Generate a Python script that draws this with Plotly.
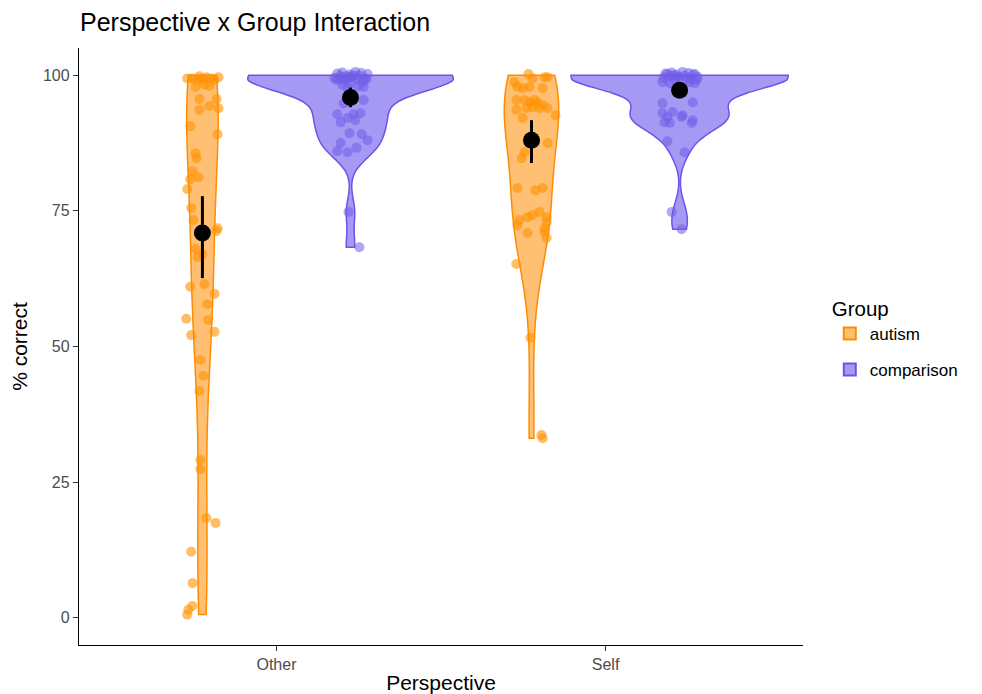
import numpy as np
import plotly.graph_objects as go

# ---------------- data ----------------
perspectives = ["Other", "Self"]
groups = ["autism", "comparison"]

other_autism = [100.0, 100.0, 100.0, 100.0, 100.0, 100.0, 100.0, 97.8, 98.3, 98.0, 100.0, 100.0,
                95.6, 93.6, 94.3, 95.6, 93.9, 90.6, 89.1, 85.6, 84.7, 82.3, 81.2, 80.8,
                79.0, 75.5, 73.3, 71.8, 71.3, 68.0, 66.5, 67.0, 61.0, 61.5, 59.7, 57.8,
                55.1, 54.9, 52.7, 52.1, 47.5, 44.6, 41.8, 29.1, 27.4, 18.4, 17.5, 12.2,
                6.4, 2.2, 1.5, 0.6]
other_autism_jit = [-0.046, -0.030, -0.015, 0.000, 0.012, 0.027, 0.049, -0.021, 0.006, 0.021, 0.037, -0.009,
                    -0.009, -0.009, 0.021, 0.043, 0.049, -0.037, 0.046, -0.021, -0.018, -0.030, -0.012, -0.037,
                    -0.046, -0.034, -0.027, 0.046, 0.043, -0.021, -0.015, 0.000, -0.037, 0.006, 0.037, 0.015,
                    -0.049, 0.018, 0.037, -0.034, -0.006, 0.003, -0.009, -0.006, -0.006, 0.012, 0.040, -0.034,
                    -0.030, -0.030, -0.043, -0.046]
other_autism_yjit = [-0.6, -0.6, -0.9, -0.7, -0.4, -0.6, -0.4, 0, 0, 0, -0.9, -0.2] + [0] * 40

other_comp = [100.0, 100.0, 100.0, 100.0, 100.0, 98.7, 98.2, 98.5, 98.0, 97.8, 97.6, 100.0, 100.0, 100.0,
              100.0, 100.0, 100.0, 100.0, 100.0, 100.0, 100.0, 100.0, 100.0, 100.0, 100.0, 100.0,
              95.4, 94.8, 92.8, 91.3, 92.1, 92.8, 91.7, 93.0, 89.3, 89.1, 88.0, 87.5, 86.0, 85.8,
              86.6, 74.8, 68.3]
other_comp_jit = [-0.037, -0.021, -0.006, 0.009, 0.021, 0.037, -0.024, 0.000, 0.024, 0.040, -0.009, -0.015, 0.049, -0.043,
                  -0.049, -0.040, -0.031, -0.025, -0.012, -0.003, 0.003, 0.015, 0.027, 0.033, 0.043, 0.052,
                  0.040, -0.021, -0.040, -0.030, -0.009, 0.009, 0.015, 0.030, -0.003, 0.034, 0.052, -0.030, -0.040, -0.009,
                  0.018, -0.006, 0.027]
other_comp_yjit = [-0.6, -0.9, -0.4, 0, -0.6, 0, 0, 0, 0, 0, 0, -0.2, -0.7, -0.9,
                   -0.5, 0.3, -0.2, 0.5, -0.7, 0.1, -0.4, 0.6, -0.1, 0.4, -0.6, 0.2] + [0] * 17

self_autism = [98.7, 97.8, 97.6, 100.0, 100.0, 100.0, 100.0, 97.8, 97.6, 95.4, 95.4, 95.0, 95.4, 95.0,
               94.5, 93.9, 93.6, 93.9, 94.1, 93.9, 92.6, 92.1, 87.5, 85.8, 84.7, 79.2, 78.8, 79.2,
               73.8, 74.2, 74.8, 73.8, 73.3, 72.4, 72.9, 70.9, 71.8, 70.0, 71.1, 65.2, 51.6, 33.7, 33.1]
self_autism_jit = [-0.052, -0.043, -0.027, -0.009, 0.003, 0.040, 0.049, -0.006, 0.034, -0.046, -0.021, -0.006, 0.009, 0.018,
                   0.034, 0.049, -0.046, -0.015, 0.003, 0.024, 0.073, -0.027, 0.049, -0.021, -0.030, -0.043, 0.012, 0.034,
                   -0.012, 0.003, 0.024, 0.046, -0.037, -0.043, 0.046, -0.012, 0.040, 0.046, 0.040, -0.046, -0.003, 0.030, 0.034]
self_autism_yjit = [0, 0, 0, 0.2, -0.6, -0.4, -0.4] + [0] * 36

self_comp = [100.0, 100.0, 100.0, 100.0, 100.0, 100.0, 100.0, 100.0, 100.0, 100.0, 100.0, 100.0,
             100.0, 100.0, 100.0, 100.0, 100.0, 100.0, 100.0,
             98.7, 98.5, 98.7, 98.5, 94.8, 95.0, 93.0, 93.2, 92.3,
             92.6, 92.3, 91.3, 91.2, 91.7, 91.2, 87.8, 85.8, 74.8, 71.6]
self_comp_jit = [-0.037, -0.006, 0.021, 0.040, 0.052, -0.049, -0.043, -0.031, -0.024, -0.015, -0.009, 0.000,
                 0.009, 0.015, 0.027, 0.033, 0.046, 0.055, -0.018,
                 -0.052, -0.030, 0.030, 0.046, -0.052, 0.040, -0.052, -0.021, -0.037,
                 0.009, 0.006, -0.046, -0.030, 0.040, 0.037, -0.037, 0.015, -0.024, 0.006]
self_comp_yjit = [0.2, -0.4, -0.6, 0.1, -0.9, -0.5, 0.3, -0.2, 0.5, -0.7, 0.1, -0.4, 0.6, -0.1,
                  0.4, -0.6, 0.2, -0.3, 0.0] + [0] * 19

# group means and error-bar limits
mean_vals = {"Other": [70.9, 95.9], "Self": [88.0, 97.2]}
err_lo = {"Other": [62.6, 94.1], "Self": [83.8, 95.9]}
err_hi = {"Other": [77.7, 97.7], "Self": [91.7, 98.5]}

values = {("Other", "autism"): (other_autism, other_autism_jit, other_autism_yjit),
          ("Other", "comparison"): (other_comp, other_comp_jit, other_comp_yjit),
          ("Self", "autism"): (self_autism, self_autism_jit, self_autism_yjit),
          ("Self", "comparison"): (self_comp, self_comp_jit, self_comp_yjit)}

# ---------------- styles ----------------
dodge = {"autism": -0.225, "comparison": 0.225}
cat_pos = {"Other": 1, "Self": 2}
line_col = {"autism": "#FF8C00", "comparison": "rgb(105,85,235)"}
fill_col = {"autism": "rgba(255,140,0,0.55)", "comparison": "rgba(123,104,238,0.68)"}
pt_col = {"autism": "rgba(255,145,0,0.6)", "comparison": "rgba(112,92,232,0.55)"}
FONT = "Liberation Sans, Arial, sans-serif"
MAX_WIDTH = 0.66   # full width of the widest violin (x units)
BW_ADJUST = {("Other", "autism"): 1.0, ("Other", "comparison"): 1.0,
             ("Self", "autism"): 1.35, ("Self", "comparison"): 1.0}
OFF = 8            # page body margin of the html page


def nrd0(v):
    v = np.asarray(v, dtype=float)
    sd = v.std(ddof=1)
    iqr = np.subtract(*np.percentile(v, [75, 25]))
    lo = min(sd, iqr / 1.34) if iqr > 0 else sd
    return 0.9 * lo * len(v) ** (-0.2)


def kde_peak(v, bw):
    v = np.asarray(v, dtype=float)
    grid = np.linspace(v.min(), v.max(), 512)
    d = np.exp(-0.5 * ((grid[:, None] - v[None, :]) / bw) ** 2).sum(1)
    return (d / (len(v) * bw * np.sqrt(2 * np.pi))).max()


# equal-area scaling (as ggplot's scale="area")
bws = {k: BW_ADJUST[k] * nrd0(v[0]) for k, v in values.items()}
peaks = {k: kde_peak(values[k][0], bws[k]) for k in values}
top_peak = max(peaks.values())

fig = go.Figure()

# violins
for g in groups:
    for p in perspectives:
        yv = values[(p, g)][0]
        xpos = cat_pos[p] + dodge[g]
        fig.add_trace(go.Violin(
            x=[xpos] * len(yv), y=yv, name=g, legendgroup=g,
            showlegend=(p == "Other"),
            width=MAX_WIDTH * peaks[(p, g)] / top_peak,
            scalegroup=f"{p}-{g}", scalemode="width",
            spanmode="hard", bandwidth=bws[(p, g)],
            line=dict(color=line_col[g], width=1.5), fillcolor=fill_col[g],
            points=False, box_visible=False, meanline_visible=False,
            hoverinfo="y",
        ))

# jittered points
for g in groups:
    for p in perspectives:
        yv, jit, yjit = values[(p, g)]
        xpos = cat_pos[p] + dodge[g]
        fig.add_trace(go.Scatter(
            x=[xpos + j for j in jit], y=[v + dy for v, dy in zip(yv, yjit)],
            mode="markers", showlegend=False,
            marker=dict(size=10, color=pt_col[g], line=dict(width=0)),
            hoverinfo="y",
        ))

# means with error bars
for gi, g in enumerate(groups):
    xs = [cat_pos[p] + dodge[g] for p in perspectives]
    ms = [mean_vals[p][gi] for p in perspectives]
    up = [err_hi[p][gi] - mean_vals[p][gi] for p in perspectives]
    dn = [mean_vals[p][gi] - err_lo[p][gi] for p in perspectives]
    fig.add_trace(go.Scatter(
        x=xs, y=ms, mode="markers", showlegend=False,
        marker=dict(size=17, color="black"),
        error_y=dict(type="data", symmetric=False, array=up, arrayminus=dn,
                     color="black", thickness=3, width=0),
    ))

W, H = 982 - OFF, 694 - OFF
fig.update_layout(
    width=W, height=H,
    margin=dict(l=79 - OFF, r=179, t=48 - OFF, b=49),
    paper_bgcolor="white", plot_bgcolor="white",
    violinmode="overlay",
    font=dict(family=FONT, color="black"),
    title=dict(text="Perspective x Group Interaction", x=(80 - OFF) / W, xanchor="left",
               y=1 - (22 - OFF) / H, yanchor="middle", font=dict(size=25, color="black")),
    legend=dict(title=dict(text="Group", font=dict(size=20.5)), font=dict(size=17),
                x=1.037, xanchor="left", y=0.596, yanchor="top",
                tracegroupgap=11, itemsizing="constant"),
    xaxis=dict(range=[0.4, 2.6], tickmode="array", tickvals=[1, 2], ticktext=perspectives,
               showline=True, linecolor="black", linewidth=1.3, showgrid=False, zeroline=False,
               ticks="outside", ticklen=5, tickcolor="#333333", automargin=False,
               tickfont=dict(size=16, color="#4D4D4D"),
               title=dict(text="Perspective", font=dict(size=21), standoff=12)),
    yaxis=dict(range=[-5, 105], tickmode="array", tickvals=[0, 25, 50, 75, 100],
               showline=True, linecolor="black", linewidth=1.3, showgrid=False, zeroline=False,
               ticks="outside", ticklen=5, tickcolor="#333333", automargin=False,
               tickfont=dict(size=16, color="#4D4D4D"),
               title=dict(text="% correct", font=dict(size=21), standoff=10)),
)

fig.write_html("out.html")
